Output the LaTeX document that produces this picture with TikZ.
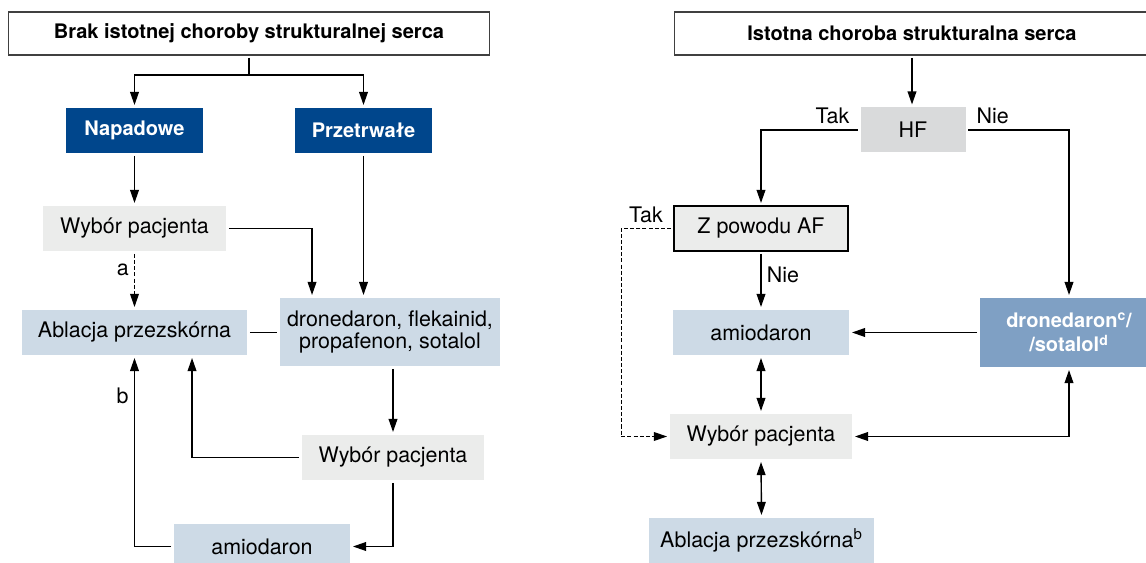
\documentclass[tikz,border=0pt]{standalone}
\usepackage{fontspec}
\setmainfont{TeX Gyre Heros}
\usetikzlibrary{arrows.meta,calc}

\definecolor{blued}{RGB}{0,70,140}
\definecolor{bluem}{RGB}{127,160,196}
\definecolor{bluel}{RGB}{205,218,230}
\definecolor{greyl}{RGB}{235,236,235}
\definecolor{greyd}{RGB}{217,218,219}

\tikzset{
    box/.style={minimum height=0.9cm, inner sep=0pt, outer sep=1.7pt, align=center, font=\fontsize{12.2}{13}\selectfont},
    bluebox/.style={box, fill=bluel},
    greybox/.style={box, fill=greyl},
    headbox/.style={box, fill=blued, text=white, font=\bfseries\fontsize{11.4}{14}\selectfont},
    titlebox/.style={box, draw=black!75, line width=0.6pt, minimum height=0.86cm, font=\bfseries\fontsize{11.4}{13}\selectfont},
    lab/.style={inner sep=3pt, font=\fontsize{12.2}{13}\selectfont},
    dashline/.style={line width=0.6pt, dash pattern=on 2.3pt off 1.2pt}
}

\begin{document}
\begin{tikzpicture}[x=0.02cm, y=-0.02cm, line width=0.8pt, >={Triangle[length=7.5pt,width=5pt]}]
                    \path[use as bounding box, clip] (0,0) rectangle (1146,563);
                    \node[titlebox, minimum width=9.64cm] (tytL) at (249,33.5) {Brak istotnej choroby strukturalnej serca};
                    \node[headbox, minimum width=2.74cm] (nap) at (134.5,130.5) {Napadowe};
                    \node[headbox, minimum width=2.74cm] (prz) at (363.5,130.5) {Przetrwałe};
                    \node[greybox, minimum width=3.66cm] (wyb1) at (134.5,228.5) {Wybór pacjenta};
                    \node[bluebox, minimum width=4.5cm] (abl1) at (134.5,332.5) {Ablacja przezskórna};
                    \node[bluebox, minimum width=4.4cm, minimum height=1.36cm] (dron1) at (390,332) {dronedaron, flekainid,\\propafenon, sotalol};
                    \node[greybox, minimum width=3.64cm] (wyb2) at (393,457.5) {Wybór pacjenta};
                    \node[bluebox, minimum width=3.52cm] (amio1) at (262,546.5) {amiodaron};
                    \draw[->] (tytL.south) -- ++(0,17) -| (nap.north);
                    \draw[->] (tytL.south) -- ++(0,17) -| (prz.north);
                    \draw[->] (nap.south) -- (wyb1.north);
                    \draw[->] (prz.south) -- (prz.south |- dron1.north);
                    \draw[->] (wyb1.east) -| ($(dron1.north west)+(35,0)$);
                    \draw[->, dashline] (wyb1.south) -- node[pos=0.3, left, lab] {a} (abl1.north);
                    \draw (abl1.east) -- (abl1.east -| dron1.west);
                    \draw[->] (dron1.south -| wyb2.north) -- (wyb2.north);
                    \draw[->] (wyb2.west) -| ($(abl1.south west)+(173,0)$);
                    \draw[->] (wyb2.south) |- (amio1.east);
                    \draw[->] (amio1.west) -| node[pos=0.9, left, lab] {b} (abl1.south);
                    \node[titlebox, minimum width=9.52cm] (tytR) at (912,33.5) {Istotna choroba strukturalna serca};
                    \node[box, fill=greyd, minimum width=2.1cm] (hf) at (913,130) {HF};
                    \node[greybox, draw=black, line width=0.6pt, minimum width=3.48cm] (zpow) at (761,228.5) {Z powodu AF};
                    \node[bluebox, minimum width=3.52cm] (amio2) at (761,332.5) {amiodaron};
                    \node[headbox, fill=bluem, minimum width=3.56cm, minimum height=1.38cm] (dron2) at (1069,332.5) {dronedaron\textsuperscript{c}/\\/sotalol\textsuperscript{d}};
                    \node[greybox, minimum width=3.64cm] (wyb3) at (761,436.5) {Wybór pacjenta};
                    \node[bluebox, minimum width=4.5cm] (abl2) at (761.5,540.5) {Ablacja przezskórna\textsuperscript{b}};
                    \draw[->] (tytR.south) -- (tytR.south |- hf.north);
                    \draw[->] (hf.west) -| node[pos=0.13, above, lab] {Tak} (zpow.north);
                    \draw[->] (hf.east) -| node[pos=0.12, above, lab] {Nie} (dron2.north);
                    \draw[->, dashline] (zpow.west) -- node[above, lab] {Tak} ++(-50,0) |- (wyb3.west);
                    \draw[->] (zpow.south) -- node[pos=0.4, right, lab] {Nie} (amio2.north);
                    \draw[->] (dron2.west) -- (amio2.east);
                    \draw[<->] (amio2.south) -- (wyb3.north);
                    \draw[<->] (wyb3.east) -| (dron2.south);
                    \draw[<->] (wyb3.south) -- (abl2.north);
                \end{tikzpicture}
\end{document}
